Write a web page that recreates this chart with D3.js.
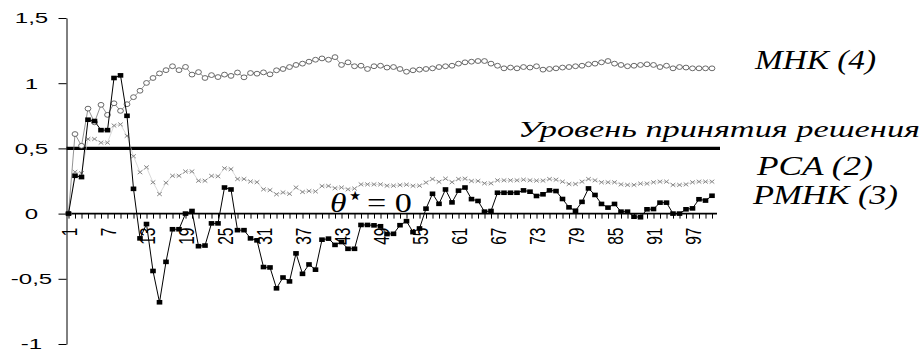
<!DOCTYPE html>
<html>
<head>
<meta charset="utf-8">
<script src="https://cdn.jsdelivr.net/npm/d3@7"></script>
<style>
body { margin: 0; background: #fff; }
svg { display: block; }
.axis text { font-family: "Liberation Sans", Arial, sans-serif; font-size: 15.5px; fill: #000; }
.ann { font-family: "Liberation Serif", "Times New Roman", serif; font-style: italic; fill: #000; }
</style>
</head>
<body>
<div id="chart"></div>
<script>
// iteration numbers on the x axis
const steps = d3.range(1, 101)

// МНК (4) - circles
const mnk = [0, 0.61, 0.52, 0.805, 0.70, 0.834, 0.757, 0.846, 0.788, 0.839,
  0.893, 0.942, 1.002, 1.04, 1.075, 1.10, 1.13, 1.10, 1.125, 1.066,
  1.085, 1.04, 1.062, 1.047, 1.066, 1.056, 1.082, 1.045, 1.078, 1.073,
  1.083, 1.068, 1.099, 1.109, 1.124, 1.14, 1.15, 1.165, 1.18, 1.19,
  1.18, 1.20, 1.14, 1.16, 1.13, 1.134, 1.109, 1.13, 1.134, 1.12,
  1.124, 1.109, 1.088, 1.099, 1.104, 1.109, 1.114, 1.124, 1.13, 1.134,
  1.15, 1.16, 1.165, 1.17, 1.17, 1.15, 1.134, 1.114, 1.12, 1.114,
  1.124, 1.12, 1.13, 1.104, 1.109, 1.114, 1.12, 1.124, 1.13, 1.134,
  1.145, 1.15, 1.16, 1.17, 1.15, 1.14, 1.13, 1.134, 1.14, 1.145,
  1.14, 1.124, 1.134, 1.114, 1.124, 1.12, 1.114, 1.114, 1.114, 1.114]

// PCA (2) - crosses
const pca = [0, 0.32, 0.31, 0.572, 0.572, 0.544, 0.544, 0.675, 0.684, 0.596,
  0.44, 0.317, 0.355, 0.24, 0.15, 0.236, 0.29, 0.29, 0.323, 0.323,
  0.252, 0.252, 0.289, 0.286, 0.347, 0.341, 0.265, 0.265, 0.246, 0.241,
  0.186, 0.18, 0.148, 0.162, 0.152, 0.20, 0.166, 0.173, 0.17, 0.211,
  0.212, 0.195, 0.20, 0.186, 0.192, 0.224, 0.224, 0.224, 0.224, 0.214,
  0.214, 0.219, 0.222, 0.213, 0.214, 0.238, 0.265, 0.244, 0.268, 0.241,
  0.265, 0.268, 0.25, 0.25, 0.232, 0.232, 0.255, 0.255, 0.255, 0.255,
  0.26, 0.255, 0.253, 0.253, 0.265, 0.26, 0.245, 0.227, 0.227, 0.245,
  0.265, 0.255, 0.24, 0.24, 0.24, 0.224, 0.22, 0.22, 0.23, 0.23,
  0.24, 0.245, 0.245, 0.22, 0.22, 0.224, 0.24, 0.245, 0.245, 0.245]

// РМНК (3) - black squares
const rmnk = [0, 0.29, 0.28, 0.72, 0.71, 0.64, 0.64, 1.04, 1.06, 0.75,
  0.19, -0.19, -0.08, -0.44, -0.68, -0.37, -0.12, -0.12, 0.0, 0.02,
  -0.25, -0.245, -0.075, -0.075, 0.20, 0.185, -0.127, -0.127, -0.19, -0.205,
  -0.41, -0.413, -0.573, -0.49, -0.52, -0.305, -0.462, -0.39, -0.43, -0.20,
  -0.192, -0.24, -0.218, -0.27, -0.27, -0.087, -0.087, -0.09, -0.097, -0.157,
  -0.155, -0.089, -0.058, -0.142, -0.114, 0.038, 0.152, 0.075, 0.185, 0.086,
  0.176, 0.20, 0.111, 0.097, 0.015, 0.02, 0.16, 0.16, 0.16, 0.16,
  0.178, 0.168, 0.135, 0.148, 0.178, 0.173, 0.112, 0.048, 0.022, 0.09,
  0.193, 0.143, 0.074, 0.046, 0.074, 0.015, 0.015, -0.024, -0.028, 0.033,
  0.035, 0.084, 0.084, 0.0, 0.0, 0.033, 0.04, 0.11, 0.10, 0.137]

const yTicks = [-1, -0.5, 0, 0.5, 1, 1.5]
const labelEvery = 6
const decisionLevel = 0.5
const notes = ['МНК (4)', 'Уровень принятия решения', 'PCA (2)', 'РМНК (3)']

const W = 922, H = 356
const left = 66.5, right = 717
const sx = 1.45 // the source picture is stretched sideways, text too

const svg = d3.select('#chart').append('svg')
  .attr('width', W)
  .attr('height', H)

const x = d3.scalePoint().domain(steps).range([68.5, 712])
const y = d3.scaleLinear().domain([-1, 1.5]).range([344, 18])

// y axis
let yAxis = svg.append('g')
  .attr('class', 'axis')
  .attr('transform', `translate(${left},0)`)
  .call(d3.axisLeft(y).tickValues(yTicks).tickSize(8).tickSizeOuter(0)
    .tickFormat(d => String(d).replace('.', ',')))
yAxis.selectAll('.tick text')
  .attr('x', 0)
  .attr('text-anchor', 'middle')
  .attr('transform', `translate(-35,0) scale(1.55,1)`)

// decision level
svg.append('line')
  .attr('x1', left).attr('x2', 720)
  .attr('y1', y(decisionLevel)).attr('y2', y(decisionLevel))
  .attr('stroke', '#000')
  .attr('stroke-width', 3.2)

// x axis through zero
let xAxis = svg.append('g')
  .attr('class', 'axis')
  .attr('transform', `translate(0,${y(0)})`)
  .call(d3.axisBottom(x).tickSize(5).tickSizeOuter(0)
    .tickFormat(d => (d - 1) % labelEvery === 0 ? d : ''))
xAxis.select('.domain').remove()
xAxis.append('line')
  .attr('x1', left).attr('x2', right)
  .attr('stroke', '#000')
  .attr('stroke-width', 1.6)
xAxis.selectAll('.tick text')
  .attr('y', 0)
  .attr('dy', '0.35em')
  .attr('text-anchor', 'end')
  .attr('transform', `translate(0,14) scale(${sx},1) rotate(-90)`)

const line = d3.line()
  .x((d, i) => x(steps[i]))
  .y(d => y(d))

// PCA
svg.append('path').datum(pca)
  .attr('d', line)
  .attr('fill', 'none')
  .attr('stroke', '#c8c8c8')
  .attr('stroke-width', 0.7)
svg.append('g').selectAll('path')
  .data(pca)
  .enter()
  .append('path')
  .attr('transform', (d, i) => `translate(${x(steps[i])},${y(d)})`)
  .attr('d', 'M-2.3,-1.9L2.3,1.9M-2.3,1.9L2.3,-1.9')
  .attr('stroke', '#888')
  .attr('stroke-width', 1)

// МНК
svg.append('path').datum(mnk)
  .attr('d', line)
  .attr('fill', 'none')
  .attr('stroke', '#777')
  .attr('stroke-width', 0.8)
svg.append('g').selectAll('ellipse')
  .data(mnk)
  .enter()
  .append('ellipse')
  .attr('cx', (d, i) => x(steps[i]))
  .attr('cy', d => y(d))
  .attr('rx', 2.9)
  .attr('ry', 2.4)
  .attr('fill', '#fff')
  .attr('stroke', '#444')
  .attr('stroke-width', 0.8)

// РМНК
svg.append('path').datum(rmnk)
  .attr('d', line)
  .attr('fill', 'none')
  .attr('stroke', '#000')
  .attr('stroke-width', 1)
svg.append('g').selectAll('rect')
  .data(rmnk)
  .enter()
  .append('rect')
  .attr('x', (d, i) => x(steps[i]) - 2.8)
  .attr('y', d => y(d) - 2.3)
  .attr('width', 5.6)
  .attr('height', 4.6)
  .attr('fill', '#000')

// labels
const place = [
  {x: 755, y: 69, size: 28, w: 121},
  {x: 518, y: 137, size: 24, w: 402},
  {x: 757, y: 175, size: 27, w: 116},
  {x: 753, y: 204, size: 27, w: 145}
]
notes.forEach((t, i) => {
  svg.append('text')
    .attr('class', 'ann')
    .attr('x', place[i].x)
    .attr('y', place[i].y)
    .attr('font-size', place[i].size)
    .attr('textLength', place[i].w)
    .attr('lengthAdjust', 'spacingAndGlyphs')
    .text(t)
})

// theta* = 0
svg.append('text')
  .attr('class', 'ann')
  .attr('transform', 'translate(330,212) scale(1.2,1)')
  .attr('font-size', 28)
  .text('θ')
svg.append('text')
  .attr('x', 347)
  .attr('y', 204)
  .attr('font-family', 'DejaVu Sans')
  .attr('font-size', 26)
  .text('⋆')
svg.append('text')
  .attr('class', 'ann')
  .attr('transform', 'translate(367,212) scale(1.22,1)')
  .attr('font-size', 28)
  .style('font-style', 'normal')
  .text('= 0')
</script>
</body>
</html>
